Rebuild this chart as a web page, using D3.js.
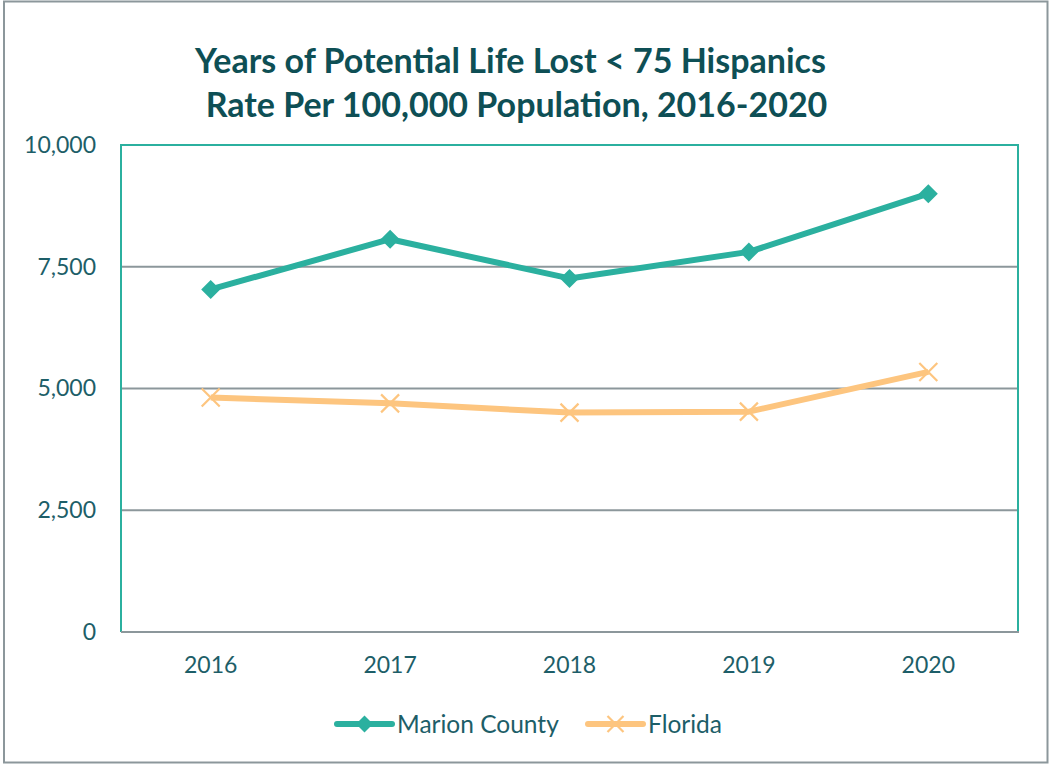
<!DOCTYPE html>
<html><head><meta charset="utf-8">
<script src="https://cdn.jsdelivr.net/npm/d3@7"></script>
<style>body{margin:0;background:#fff}svg{display:block}</style>
</head><body>
<script>
const years = ["2016","2017","2018","2019","2020"];
const marion = [7035, 8065, 7260, 7805, 9000];
const florida = [4815, 4695, 4505, 4525, 5340];
const yTicks = [0, 2500, 5000, 7500, 10000];
const seriesNames = ["Marion County", "Florida"];

const W = 1049, H = 765;
const teal = "#2bb09f", orange = "#fdc57f", textC = "#1d5e68", titleC = "#0e4f55", grid = "#8c979b";
const svg = d3.select("body").append("svg").attr("width", W).attr("height", H);
svg.append("rect").attr("x",4).attr("y",1.5).attr("width",1043.5).attr("height",761).attr("fill","#fff").attr("stroke",grid).attr("stroke-width",2);

const L = 121, R = 1018, T = 145, B = 632;
const x = d3.scaleBand().domain(years).range([L, R]);
const y = d3.scaleLinear().domain([0, 10000]).range([B, T]);
const cx = d => x(d) + x.bandwidth()/2;

// title
const title = svg.append("text").attr("text-anchor","middle").attr("fill",titleC)
  .style("font-family","Lato, 'Open Sans', sans-serif").style("font-weight","bold").style("font-size","34px");
title.append("tspan").attr("x",510.5).attr("y",73).text("Years of Potential Life Lost < 75 Hispanics");
title.append("tspan").attr("x",516.5).attr("y",117).text("Rate Per 100,000 Population, 2016-2020");

// gridlines
svg.append("g").selectAll("line").data(yTicks.filter(d=>d>0 && d<10000)).join("line")
  .attr("x1",L).attr("x2",R).attr("y1",d=>y(d)).attr("y2",d=>y(d)).attr("stroke",grid).attr("stroke-width",2);
// plot border
svg.append("path").attr("d",`M${L},${B}V${T}H${R}V${B}`).attr("fill","none").attr("stroke",teal).attr("stroke-width",2);
svg.append("line").attr("x1",L).attr("x2",R+1).attr("y1",B).attr("y2",B).attr("stroke",grid).attr("stroke-width",2);

// y axis labels
const yAxis = svg.append("g").attr("transform",`translate(${L-25},0)`)
  .call(d3.axisLeft(y).tickValues(yTicks).tickSize(0).tickPadding(0).tickFormat(d3.format(",")));
yAxis.select(".domain").remove();
yAxis.selectAll("text").attr("fill",textC).style("font-family","Lato, 'Open Sans', sans-serif").style("font-size","23px");

// x axis labels
const xAxis = svg.append("g").attr("transform",`translate(0,${B+24})`)
  .call(d3.axisBottom(x).tickSize(0).tickPadding(0));
xAxis.select(".domain").remove();
xAxis.selectAll("text").attr("fill",textC).attr("dy","0.75em").style("font-family","Lato, 'Open Sans', sans-serif").style("font-size","23px");

const line = d3.line().x((d,i)=>cx(years[i])).y(d=>y(d));
svg.append("path").datum(florida).attr("d",line).attr("fill","none").attr("stroke",orange).attr("stroke-width",6).attr("stroke-linejoin","round");
svg.append("path").datum(marion).attr("d",line).attr("fill","none").attr("stroke",teal).attr("stroke-width",6).attr("stroke-linejoin","round");

const diamond = (s) => `M0,${-s}L${s},0L0,${s}L${-s},0Z`;
const cross = (s) => `M${-s},${-s}L${s},${s}M${-s},${s}L${s},${-s}`;
svg.append("g").selectAll("path").data(florida).join("path")
  .attr("transform",(d,i)=>`translate(${cx(years[i])},${y(d)})`).attr("d",cross(9))
  .attr("stroke",orange).attr("stroke-width",2.2).attr("fill","none");
svg.append("g").selectAll("path").data(marion).join("path")
  .attr("transform",(d,i)=>`translate(${cx(years[i])},${y(d)})`).attr("d",diamond(9.5))
  .attr("fill",teal);

// legend
const lg = [{name:seriesNames[0], c:teal, x0:337, m:"d"},{name:seriesNames[1], c:orange, x0:588, m:"x"}];
const lgG = svg.append("g").selectAll("g").data(lg).join("g").attr("transform",d=>`translate(${d.x0},724)`);
lgG.append("line").attr("x1",0).attr("x2",55).attr("stroke",d=>d.c).attr("stroke-width",6).attr("stroke-linecap","round");
lgG.append("path").attr("transform","translate(27.5,0)").attr("d",d=>d.m==="d"?diamond(8.5):cross(8))
  .attr("fill",d=>d.m==="d"?d.c:"none").attr("stroke",d=>d.m==="d"?"none":d.c).attr("stroke-width",2.2);
lgG.append("text").attr("x",60).attr("y",0).attr("dy","0.35em").attr("fill",textC)
  .style("font-family","Lato, 'Open Sans', sans-serif").style("font-size","24.5px").text(d=>d.name);
</script>
</body></html>
